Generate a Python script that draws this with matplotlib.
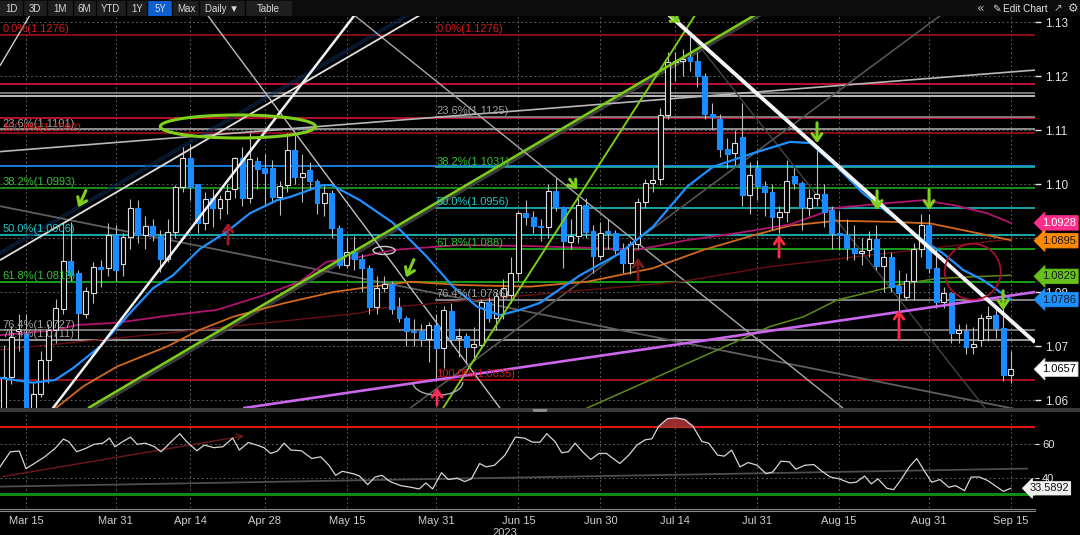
import numpy as np
import pandas as pd
import matplotlib
matplotlib.use("Agg")
import matplotlib.pyplot as plt
from matplotlib.patches import Rectangle, Ellipse, Arc
import matplotlib.transforms as mtransforms

plt.rcParams['font.family'] = ['Liberation Sans', 'DejaVu Sans']

# ------------------------------------------------------------------ data
dates = pd.bdate_range('2023-03-10', '2023-09-15')

opens = [
    # Mar
    1.0582, 1.0643, 1.0727, 1.0722, 1.0577, 1.0612, 1.0674, 1.0730, 1.0769, 1.0857, 1.0835, 1.0760, 1.0798, 1.0846, 1.0844, 1.0906,
    # Apr
    1.0852, 1.0902, 1.0956, 1.0906, 1.0923, 1.0904, 1.0861, 1.0912, 1.0995, 1.1048, 1.1000, 1.0928, 1.0974, 1.0956, 1.0972, 1.0990, 1.1048, 1.0974, 1.1042, 1.1030,
    # May
    1.1030, 1.0976, 1.0998, 1.1063, 1.1013, 1.1026, 1.1005, 1.0965, 1.0984, 1.0919, 1.0850, 1.0875, 1.0862, 1.0844, 1.0772, 1.0807, 1.0814, 1.0772, 1.0752, 1.0728, 1.0728, 1.0713, 1.0738,
    # Jun
    1.0696, 1.0765, 1.0714, 1.0718, 1.0699, 1.0702, 1.0781, 1.0751, 1.0793, 1.0794, 1.0835, 1.0946, 1.0939, 1.0922, 1.0920, 1.0987, 1.0957, 1.0893, 1.0904, 1.0962, 1.0913, 1.0867,
    # Jul
    1.0913, 1.0910, 1.0878, 1.0853, 1.0888, 1.0967, 1.1001, 1.1010, 1.1128, 1.1226, 1.1228, 1.1236, 1.1228, 1.1200, 1.1130, 1.1121, 1.1065, 1.1057, 1.1087, 1.0980, 1.1030,
    # Aug
    1.0997, 1.0985, 1.0939, 1.0948, 1.1014, 1.1002, 1.0956, 1.0974, 1.0981, 1.0952, 1.0909, 1.0906, 1.0881, 1.0873, 1.0878, 1.0898, 1.0848, 1.0864, 1.0812, 1.0791, 1.0821, 1.0880, 1.0924,
    # Sep
    1.0844, 1.0782, 1.0798, 1.0724, 1.0728, 1.0698, 1.0711, 1.0751, 1.0757, 1.0733, 1.0647,
]
highs = [
    1.0702, 1.0737, 1.0760, 1.0760, 1.0632, 1.0690, 1.0740, 1.0787, 1.0928, 1.0930, 1.0840, 1.0810, 1.0855, 1.0860, 1.0927, 1.0925,
    1.0910, 1.0973, 1.0970, 1.0940, 1.0935, 1.0915, 1.0935, 1.0998, 1.1068, 1.1075, 1.1000, 1.0985, 1.0990, 1.0980, 1.1000, 1.1050, 1.1068, 1.1094, 1.1050, 1.1055,
    1.1045, 1.1005, 1.1094, 1.1091, 1.1055, 1.1040, 1.1010, 1.1000, 1.0988, 1.0925, 1.0900, 1.0904, 1.0870, 1.0850, 1.0830, 1.0830, 1.0820, 1.0790, 1.0755, 1.0750, 1.0740, 1.0745, 1.0760,
    1.0775, 1.0780, 1.0733, 1.0725, 1.0735, 1.0787, 1.0790, 1.0800, 1.0824, 1.0865, 1.0950, 1.0970, 1.0950, 1.0935, 1.1000, 1.1012, 1.0960, 1.0935, 1.0975, 1.0975, 1.0925, 1.0930,
    1.0935, 1.0915, 1.0890, 1.0895, 1.0975, 1.1010, 1.1030, 1.1140, 1.1245, 1.1245, 1.1250, 1.1276, 1.1245, 1.1205, 1.1150, 1.1130, 1.1085, 1.1100, 1.1150, 1.1040, 1.1045,
    1.1005, 1.1000, 1.0960, 1.1045, 1.1030, 1.1005, 1.0990, 1.1064, 1.1000, 1.0960, 1.0950, 1.0935, 1.0925, 1.0900, 1.0913, 1.0925, 1.0880, 1.0875, 1.0840, 1.0835, 1.0890, 1.0945, 1.0945,
    1.0882, 1.0810, 1.0800, 1.0740, 1.0740, 1.0735, 1.0760, 1.0775, 1.0770, 1.0770, 1.0690,
]
lows = [
    1.0525, 1.0630, 1.0690, 1.0516, 1.0545, 1.0605, 1.0632, 1.0705, 1.0760, 1.0820, 1.0713, 1.0752, 1.0780, 1.0810, 1.0830, 1.0820,
    1.0830, 1.0880, 1.0890, 1.0880, 1.0895, 1.0837, 1.0855, 1.0900, 1.0985, 1.0970, 1.0910, 1.0915, 1.0920, 1.0935, 1.0945, 1.0975, 1.0960, 1.0965, 1.0990, 1.0960,
    1.0965, 1.0942, 1.0985, 1.1000, 1.0967, 1.0988, 1.0945, 1.0940, 1.0900, 1.0845, 1.0845, 1.0840, 1.0800, 1.0760, 1.0760, 1.0800, 1.0760, 1.0745, 1.0700, 1.0700, 1.0700, 1.0670, 1.0635,
    1.0660, 1.0703, 1.0680, 1.0668, 1.0673, 1.0695, 1.0745, 1.0730, 1.0750, 1.0780, 1.0820, 1.0925, 1.0910, 1.0895, 1.0900, 1.0950, 1.0845, 1.0880, 1.0890, 1.0900, 1.0835, 1.0860,
    1.0880, 1.0870, 1.0835, 1.0833, 1.0880, 1.0955, 1.0985, 1.0998, 1.1120, 1.1190, 1.1200, 1.1210, 1.1180, 1.1120, 1.1100, 1.1050, 1.1030, 1.1035, 1.0960, 1.0945, 1.0970,
    1.0940, 1.0915, 1.0910, 1.0930, 1.0990, 1.0915, 1.0940, 1.0960, 1.0920, 1.0880, 1.0880, 1.0860, 1.0860, 1.0850, 1.0865, 1.0840, 1.0800, 1.0800, 1.0765, 1.0785, 1.0785, 1.0865, 1.0835,
    1.0770, 1.0770, 1.0705, 1.0705, 1.0685, 1.0685, 1.0700, 1.0710, 1.0715, 1.0635, 1.0632,
]
closes = [
    1.0642, 1.0717, 1.0731, 1.0577, 1.0612, 1.0674, 1.0730, 1.0771, 1.0857, 1.0831, 1.0761, 1.0802, 1.0847, 1.0843, 1.0906, 1.0840,
    1.0902, 1.0956, 1.0906, 1.0923, 1.0906, 1.0861, 1.0912, 1.0995, 1.1048, 1.0995, 1.0928, 1.0972, 1.0956, 1.0972, 1.0987, 1.1048, 1.0974, 1.1046, 1.1028, 1.1020,
    1.0976, 1.0997, 1.1063, 1.1013, 1.1021, 1.1005, 1.0965, 1.0984, 1.0919, 1.0850, 1.0875, 1.0862, 1.0844, 1.0772, 1.0807, 1.0814, 1.0769, 1.0752, 1.0728, 1.0726, 1.0713, 1.0739, 1.0696,
    1.0767, 1.0713, 1.0718, 1.0699, 1.0704, 1.0781, 1.0751, 1.0793, 1.0807, 1.0835, 1.0946, 1.0939, 1.0922, 1.0920, 1.0987, 1.0958, 1.0894, 1.0904, 1.0962, 1.0911, 1.0867, 1.0909,
    1.0910, 1.0878, 1.0853, 1.0888, 1.0967, 1.1001, 1.1008, 1.1128, 1.1226, 1.1228, 1.1232, 1.1228, 1.1200, 1.1130, 1.1125, 1.1065, 1.1055, 1.1076, 1.0980, 1.1016, 1.0997,
    1.0985, 1.0939, 1.0948, 1.1005, 1.1002, 1.0957, 1.0974, 1.0981, 1.0948, 1.0909, 1.0906, 1.0881, 1.0873, 1.0876, 1.0898, 1.0848, 1.0864, 1.0810, 1.0798, 1.0821, 1.0880, 1.0924, 1.0844,
    1.0782, 1.0798, 1.0724, 1.0730, 1.0699, 1.0704, 1.0751, 1.0756, 1.0733, 1.0647, 1.0657,
]

tick_dates = ['2023-03-15', '2023-03-31', '2023-04-14', '2023-04-28', '2023-05-15', '2023-05-31',
              '2023-06-15', '2023-06-30', '2023-07-14', '2023-07-31', '2023-08-15', '2023-08-31', '2023-09-15']
tick_labels = ['Mar 15', 'Mar 31', 'Apr 14', 'Apr 28', 'May 15', 'May 31', 'Jun 15', 'Jun 30',
               'Jul 14', 'Jul 31', 'Aug 15', 'Aug 31', 'Sep 15']
price_ticks = [1.06, 1.07, 1.08, 1.09, 1.10, 1.11, 1.12, 1.13]
price_tick_labels = ['1.06', '1.07', '1.08', '1.09', '1.10', '1.11', '1.12', '1.13']

# moving averages (trading day since Mar 15, value)
ma_blue = [(-3.49, 1.0641), (0.94, 1.0632), (3.89, 1.0637), (6.30, 1.0659), (9.92, 1.0699), (14.34, 1.0767),
           (17.02, 1.0807), (19.70, 1.0831), (23.32, 1.0880), (26.94, 1.0912), (30.03, 1.0946), (33.65, 1.0970),
           (35.39, 1.0976), (39.81, 1.0998), (41.0, 1.0998), (44.77, 1.0970), (49.20, 1.0928), (53.75, 1.0865),
           (57.24, 1.0810), (60.46, 1.0773), (63.54, 1.0757), (66.22, 1.0767), (68.90, 1.0780), (74.26, 1.0831),
           (79.62, 1.0872), (84.05, 1.0921), (88.61, 1.0995), (92.10, 1.1032), (97.45, 1.1057), (102.4, 1.1078),
           (105.1, 1.1076), (108.7, 1.1032), (112.2, 1.0983), (116.8, 1.0933), (120.2, 1.0896), (122.9, 1.0872),
           (125.6, 1.0841), (128.3, 1.0822), (132.0, 1.0786)]
ma_magenta = [(-3.49, 1.0720), (4.16, 1.0730), (6.84, 1.0739), (12.2, 1.0743), (18.9, 1.0756), (25.6, 1.0767),
              (31.4, 1.0792), (36.7, 1.0819), (40.3, 1.0856), (44.8, 1.0865), (49.2, 1.0878), (58.2, 1.0887),
              (67.6, 1.0885), (77.3, 1.0881), (81.9, 1.0878), (88.6, 1.0896), (95.3, 1.0909), (102.4, 1.0925),
              (108.7, 1.0956), (115.8, 1.0965), (120.2, 1.0970), (124.3, 1.0961), (128.8, 1.0946), (132.0, 1.0928)]
ma_orange = [(1.88, 1.0570), (3.62, 1.0581), (7.64, 1.0625), (12.2, 1.0662), (18.9, 1.0699), (23.3, 1.0730),
             (27.7, 1.0754), (34.5, 1.0779), (41.2, 1.0800), (44.8, 1.0807), (51.5, 1.0819), (58.2, 1.0813),
             (67.6, 1.0810), (75.2, 1.0819), (84.0, 1.0844), (90.8, 1.0878), (97.5, 1.0905), (102.4, 1.0923),
             (108.7, 1.0932), (115.8, 1.0930), (121.2, 1.0927), (126.5, 1.0912), (132.0, 1.0896)]
ma_darkred = [(-3.49, 1.0693), (18.9, 1.0724), (44.8, 1.0761), (47.5, 1.0770), (87.7, 1.0819), (99.7, 1.0847), (132.0, 1.0898)]
ma_olive = [(71.6, 1.0565), (75.2, 1.0585), (87.7, 1.0662), (99.7, 1.0736), (104.2, 1.0754), (108.7, 1.0785),
            (113.1, 1.0800), (117.6, 1.0815), (122.1, 1.0825), (126.5, 1.0828), (132.0, 1.0831)]

# RSI (trading day since Mar 15, value)
rsi_points = [(-3.5, 46.3), (-2.1, 55.3), (-0.9, 55.7), (0.0, 45.3), (1.1, 48.3), (2.5, 52.3), (3.9, 57.3), (5.0, 62.8),
              (5.7, 61.4), (6.8, 55.3), (8.0, 57.3), (9.1, 59.7), (10.3, 60.4), (11.2, 63.4), (11.9, 58.3), (13.0, 61.4),
              (14.0, 64.0), (14.9, 59.7), (16.0, 60.4), (17.2, 58.3), (18.1, 55.3), (19.5, 61.4), (20.6, 66.0), (21.5, 61.4),
              (22.9, 55.9), (23.9, 59.3), (25.2, 57.7), (26.4, 58.3), (27.7, 63.4), (28.6, 56.3), (29.8, 60.8), (30.9, 59.3),
              (31.9, 57.7), (32.8, 54.3), (33.7, 55.7), (34.6, 60.4), (35.5, 56.3), (36.9, 55.9), (38.3, 51.3), (39.5, 52.3),
              (40.6, 47.3), (41.5, 41.3), (42.4, 43.7), (43.8, 42.3), (44.7, 40.9), (45.8, 35.8), (46.8, 40.3), (47.7, 41.3),
              (48.8, 37.6), (50.2, 35.2), (51.6, 34.2), (52.7, 33.2), (53.6, 36.8), (54.5, 33.2), (55.7, 42.9), (56.6, 38.8),
              (57.8, 39.6), (58.8, 37.6), (59.7, 39.2), (60.8, 48.3), (61.7, 46.3), (62.8, 47.3), (64.2, 53.3), (65.6, 64.0),
              (66.8, 63.4), (67.9, 61.0), (68.9, 61.0), (69.8, 66.0), (70.9, 61.4), (71.8, 54.7), (72.7, 55.3), (73.6, 60.4),
              (74.6, 55.3), (75.7, 50.7), (76.8, 54.3), (77.8, 54.3), (78.7, 51.3), (79.6, 48.3), (80.8, 53.3), (81.9, 59.3),
              (83.0, 62.4), (83.9, 63.0), (84.8, 70.4), (86.0, 75.0), (87.2, 75.4), (88.3, 74.4), (89.4, 70.4), (90.6, 61.4),
              (91.5, 60.4), (92.7, 53.3), (93.6, 52.7), (94.6, 56.3), (95.7, 46.3), (96.8, 48.9), (98.0, 47.3), (99.2, 42.3),
              (100.1, 43.3), (101.2, 49.7), (102.3, 49.3), (103.2, 44.9), (104.4, 47.3), (105.6, 47.7), (106.7, 43.7),
              (107.8, 40.3), (109.0, 39.2), (110.4, 36.8), (111.3, 37.2), (112.4, 40.9), (113.3, 36.2), (114.2, 39.2),
              (115.4, 33.6), (116.3, 32.8), (117.2, 38.2), (118.4, 46.3), (119.4, 51.3), (120.5, 43.3), (121.4, 37.2),
              (122.5, 38.8), (123.7, 34.2), (124.6, 35.2), (125.8, 32.2), (126.7, 40.3), (127.8, 40.3), (128.9, 38.2),
              (131.0, 31.8), (132.0, 33.5892)]
rsi_last = 33.5892

# Fibonacci sets
fib_left_text = ['0.0%(1.1276)', '23.6%(1.1101)', '100.0%(1.1092)', '38.2%(1.0993)', '50.0%(1.0906)',
                 '61.8%(1.0819)', '76.4%(1.0727)', '76.4%(1.0711)']
fib_left_price = [1.1276, 1.1101, 1.1094, 1.0993, 1.0906, 1.0819, 1.0729, 1.0712]
fib_right_text = ['0.0%(1.1276)', '23.6%(1.1125)', '38.2%(1.1031)', '50.0%(1.0956)', '61.8%(1.088)',
                  '76.4%(1.0786)', '100.0%(1.0635)']
fib_right_price = [1.1276, 1.1125, 1.1031, 1.0956, 1.0880, 1.0786, 1.0637]
fib_right_start = '2023-05-31'

full_levels = [1.1276, 1.1185, 1.1169, 1.1163, 1.1122, 1.1101, 1.1094, 1.1033, 1.0993, 1.0906, 1.0819, 1.0729, 1.0712, 1.0637]
part_levels = [1.1125, 1.1031, 1.0956, 1.0880, 1.0786]

# trend lines: ((day, price), (day, price))
trend_lines = {
    'a': ((2.0, 1.0556), (45.0, 1.1330)),
    'b': ((-3.49, 1.0859), (56.3, 1.1341)),
    'c': ((-3.49, 1.1060), (135.25, 1.1211)),
    'd': ((-3.49, 1.0959), (135.25, 1.0576)),
    'e': ((-3.49, 1.1219), (1.74, 1.1341)),
    'f': ((22.8, 1.1341), (63.54, 1.0585)),
    'g': ((43.97, 1.1313), (109.5, 1.0585)),
    'i1': ((8.31, 1.0585), (97.7, 1.1313)),
    'i2': ((55.9, 1.0585), (89.7, 1.1313)),
    'j': ((29.1, 1.0585), (135.25, 1.0800)),
    'k': ((86.2, 1.1313), (135.25, 1.0707)),
    'l': ((51.5, 1.0585), (122.65, 1.1313)),
    'm': ((87.7, 1.1300), (128.55, 1.0585)),
}
green_arrows = [((8.18, 1.09926), (6.84, 1.09519)), ((52.14, 1.08648), (50.80, 1.08222)),
                ((72.65, 1.10130), (74.13, 1.09852)), ((86.06, 1.13148), (88.07, 1.12963)),
                ((106.03, 1.11185), (106.03, 1.10704)), ((114.08, 1.09926), (114.08, 1.09463)),
                ((121.05, 1.09944), (121.05, 1.09463)), ((130.97, 1.08074), (130.97, 1.07611))]
red_arrows = [((27.08, 1.08833), (27.08, 1.09333), '#a3182a'), ((55.09, 1.05852), (55.09, 1.06278), '#ff2a55'),
              ((82.04, 1.08167), (82.04, 1.08685), '#7d1a1a'), ((100.94, 1.08593), (100.94, 1.09111), '#ff2a45'),
              ((117.02, 1.07074), (117.02, 1.07722), '#ff2a45')]

value_labels = [(1.0928, '#ff2d8c', 'white'), (1.0895, '#ff8a00', '#1a1a1a'), (1.0829, '#66c21a', '#1a1a1a'),
                (1.0786, '#1e90ff', '#10202a'), (1.0657, '#ffffff', '#000000')]

# ------------------------------------------------------------------ figure
W_PX, H_PX = 1080, 535
fig = plt.figure(figsize=(W_PX / 100, H_PX / 100), dpi=100, facecolor='black')

n = len(closes)
base = list(dates[:n]).index(pd.Timestamp('2023-03-15'))
x = np.arange(n) - base
date_list = list(dates[:n])
tick_x = [date_list.index(pd.Timestamp(d)) - base for d in tick_dates]
XLIM = (-3.49, 135.25)

ax = fig.add_axes([0, 127 / H_PX, 1035 / W_PX, 393 / H_PX])
ax.set_facecolor('black')
ax.set_xlim(*XLIM)
ax.set_ylim(1.05852, 1.1313)
for s in ax.spines.values():
    s.set_visible(False)

# grid
for tx in tick_x:
    ax.axvline(tx, color='#5a5a5a', lw=0.7, ls=(0, (2, 2.5)), zorder=1)
for py in price_ticks:
    ax.axhline(py, color='#5a5a5a', lw=0.7, ls=(0, (2, 2.5)), zorder=1)

full_colors = ['#a0101a', '#e3123c', '#8c8c8c', '#d9d9d9', '#d4112f', '#a6a6a6', '#a1101c', '#1f8fff',
               '#1fa31f', '#1fc7c7', '#1fb81f', '#8c8c8c', '#b3b3b3', '#c9101c']
for lv, col in zip(full_levels, full_colors):
    ax.axhline(lv, color=col, lw=1.2, zorder=2)
x_right = date_list.index(pd.Timestamp(fib_right_start)) - base
part_colors = ['#8c8c8c', '#1fb3a0', '#1fc0c0', '#1fb81f', '#9a9a9a']
for lv, col in zip(part_levels, part_colors):
    ax.plot([x_right, XLIM[1]], [lv, lv], color=col, lw=1.2, zorder=2)

# trend lines
tl_style = {
    'a': dict(color='#f2f2f2', lw=1.8), 'b': dict(color='#e0e0e0', lw=1.3), 'c': dict(color='#b8b8b8', lw=1.2),
    'd': dict(color='#5f5f5f', lw=1.3), 'e': dict(color='#cfcfcf', lw=1.0), 'f': dict(color='#bdbdbd', lw=1.0),
    'g': dict(color='#a8a8a8', lw=1.0), 'i1': dict(color='#7ccc1a', lw=1.8), 'i2': dict(color='#7ccc1a', lw=1.4),
    'j': dict(color='#cc66ee', lw=1.9), 'k': dict(color='#f5f5f5', lw=2.8), 'l': dict(color='#555555', lw=1.2),
    'm': dict(color='#444444', lw=1.0),
}
# shadows
(p0, p1) = trend_lines['b']
ax.plot([p0[0], p1[0]], [p0[1] + 0.0013, p1[1] + 0.0013], color='#0d2a55', lw=3, alpha=0.55, zorder=2.5)
(p0, p1) = trend_lines['i1']
ax.plot([p0[0] + 0.5, p1[0] + 0.5], [p0[1], p1[1]], color='#4a4a4a', lw=3.5, alpha=0.8, zorder=2.5)
for key, (p0, p1) in trend_lines.items():
    ax.plot([p0[0], p1[0]], [p0[1], p1[1]], zorder=7 if key in ('a', 'b', 'k', 'i1', 'i2', 'j') else 3,
            solid_capstyle='butt', **tl_style[key])

# moving averages
def plot_ma(pts, color, lw, z=4):
    d, v = zip(*pts)
    ax.plot(d, v, color=color, lw=lw, zorder=z)

plot_ma(ma_darkred, '#6b1010', 1.0)
plot_ma(ma_olive, '#5e8c16', 1.1)
plot_ma(ma_orange, '#d2691e', 1.3)
plot_ma(ma_magenta, '#b0146e', 1.3)
plot_ma(ma_blue, '#1e90ff', 1.6, z=6.5)

# candles
BW = 0.66
for xi, o, h, l, c in zip(x, opens, highs, lows, closes):
    up = c >= o
    ax.vlines(xi, l, h, color='#bdbdbd', lw=0.8, zorder=5)
    lo, hi = min(o, c), max(o, c)
    hgt = max(hi - lo, 0.00012)
    ax.add_patch(Rectangle((xi - BW / 2, lo), BW, hgt,
                           fc='black' if up else '#1a8cff',
                           ec='#dcdcdc' if up else '#1a8cff', lw=0.8, zorder=6))

# shapes
ax.add_patch(Ellipse((28.4, 1.11065), 20.8, 0.00426, fill=False, ec='#7fd01c', lw=2.2, zorder=8))
ax.add_patch(Ellipse((48.0, 1.08769), 2.95, 0.00148, fill=False, ec='#cccccc', lw=1.0, zorder=8))
ax.add_patch(Ellipse((126.9, 1.08376), 7.5, 0.01037, fill=False, ec='#b01030', lw=1.2, zorder=8))
ax.add_patch(Arc((55.2, 1.0633), 6.7, 0.0048, theta1=180, theta2=360, ec='#aaaaaa', lw=1.0, zorder=8))

for (s, e) in green_arrows:
    ax.annotate('', xy=e, xytext=s, annotation_clip=False,
                arrowprops=dict(arrowstyle='->,head_length=0.5,head_width=0.35', color='#7fd01c', lw=2.2), zorder=9)
for (s, e, col) in red_arrows:
    ax.annotate('', xy=e, xytext=s, annotation_clip=False,
                arrowprops=dict(arrowstyle='->,head_length=0.5,head_width=0.35', color=col, lw=2.0), zorder=9)

# fib labels
def fib_color(t):
    if t.startswith('0.0') or t.startswith('100'):
        return '#d41a1a'
    if t.startswith('23.6') or t.startswith('76.4'):
        return '#a0a0a0'
    if t.startswith('50.0'):
        return '#22c8c8'
    return '#33c233'

for t, p in zip(fib_left_text, fib_left_price):
    ax.text(-3.2, p + 0.00010, t, color=fib_color(t), fontsize=8, va='bottom', ha='left', zorder=10)
for t, p in zip(fib_right_text, fib_right_price):
    ax.text(x_right, p + 0.00010, t, color=fib_color(t), fontsize=8, va='bottom', ha='left', zorder=10)

# right axis
ax.yaxis.tick_right()
ax.set_yticks(price_ticks)
ax.set_yticklabels(price_tick_labels)
ax.tick_params(axis='y', colors='#e6e6e6', labelsize=8.5, length=4, width=1, pad=3)
ax.set_xticks([])

trans = mtransforms.blended_transform_factory(ax.transAxes, ax.transData)
for val, fc, tc in value_labels:
    ax.annotate(f'{val:.4f}', xy=(1.0, val), xycoords=trans, xytext=(5, 0), textcoords='offset points',
                ha='left', va='center', fontsize=8, color=tc, annotation_clip=False, zorder=20,
                bbox=dict(boxstyle='larrow,pad=0.2', fc=fc, ec='#cccccc' if fc == '#ffffff' else fc, lw=0.6))

# ------------------------------------------------------------------ RSI panel
ax2 = fig.add_axes([0, 27 / H_PX, 1035 / W_PX, 96 / H_PX])
ax2.set_facecolor('black')
ax2.set_xlim(*XLIM)
ax2.set_ylim(21.9, 78.9)
for s in ax2.spines.values():
    s.set_visible(False)
for tx in tick_x:
    ax2.axvline(tx, color='#5a5a5a', lw=0.7, ls=(0, (2, 2.5)), zorder=1)
for gy in (40, 60):
    ax2.axhline(gy, color='#5a5a5a', lw=0.7, ls=(0, (2, 2.5)), zorder=1)
ax2.axhline(70, color='#e01414', lw=1.5, zorder=2)
ax2.axhline(30, color='#118a11', lw=2.2, zorder=2)
ax2.plot([-3.49, 134.2], [34.6, 45.3], color='#4d4d4d', lw=1.3, zorder=2)
ax2.annotate('', xy=(29.6, 65.0), xytext=(-3.49, 40.3),
             arrowprops=dict(arrowstyle='->', color='#6e1a1a', lw=1.0), zorder=3)
rd, rv = zip(*rsi_points)
rd = np.array(rd)
rv = np.array(rv)
ax2.fill_between(rd, rv, 70, where=rv > 70, interpolate=True, color='#a83232', alpha=0.9, zorder=3)
ax2.plot(rd, rv, color='#d6d6d6', lw=0.9, zorder=4)

ax2.yaxis.tick_right()
ax2.set_yticks([40, 60])
ax2.tick_params(axis='y', colors='#e6e6e6', labelsize=8, length=3, pad=2)
ax2.set_xticks(tick_x)
ax2.set_xticklabels(tick_labels)
ax2.tick_params(axis='x', colors='#cfcfcf', labelsize=8, length=0, pad=6)
trans2 = mtransforms.blended_transform_factory(ax2.transAxes, ax2.transData)
ax2.annotate(f'{rsi_last:.4f}', xy=(0.988, rsi_last), xycoords=trans2, xytext=(5, 0), textcoords='offset points',
             ha='left', va='center', fontsize=7.8, color='#111111', annotation_clip=False, zorder=20,
             bbox=dict(boxstyle='larrow,pad=0.15', fc='#f0f0f0', ec='#ffffff', lw=0.6))

# ------------------------------------------------------------------ overlay (toolbar, separators)
ov = fig.add_axes([0, 0, 1, 1], zorder=30)
ov.set_xlim(0, W_PX)
ov.set_ylim(H_PX, 0)
ov.axis('off')
ov.patch.set_alpha(0)

ov.add_patch(Rectangle((0, 408), 1080, 4, fc='#3a3a3a', ec='none'))
ov.add_patch(Rectangle((533, 408.5), 14, 3, fc='#8a8a8a', ec='none'))
ov.plot([0, 1035], [508.5, 508.5], color='#8a8a8a', lw=0.8)
ov.plot([0, 1035], [511, 511], color='#8a8a8a', lw=0.8)
ov.text(505, 533, '2023', color='#cfcfcf', fontsize=8, ha='center', va='center')

ov.add_patch(Rectangle((0, 0), 1080, 16, fc='#0c0c0c', ec='none'))
ov.add_patch(Rectangle((0, 1), 292, 15, fc='#1e1e1e', ec='none'))
ov.add_patch(Rectangle((148, 1), 24, 15, fc='#0b5fcf', ec='none'))
for sx in (23, 47, 73, 96, 126, 147, 172, 199, 245):
    ov.plot([sx, sx], [1, 16], color='#050505', lw=1)
buttons = [('1D', 12), ('3D', 35), ('1M', 60), ('6M', 84), ('YTD', 111), ('1Y', 137), ('5Y', 160),
           ('Max', 186), ('Daily \u25BC', 222), ('Table', 268)]
for t, bx in buttons:
    ov.text(bx, 8.5, t, color='#d8d8d8', fontsize=7, ha='center', va='center')
ov.text(981, 8.5, '\u00AB', color='#bbbbbb', fontsize=9, ha='center', va='center', family=['DejaVu Sans'])
ov.text(996, 8.5, '\u270E', color='#dddddd', fontsize=7.5, ha='center', va='center', family=['DejaVu Sans'])
ov.text(1025, 8.5, 'Edit Chart', color='#e6e6e6', fontsize=7.2, ha='center', va='center')
ov.text(1058, 8.5, '\u2197', color='#bbbbbb', fontsize=7.5, ha='center', va='center', family=['DejaVu Sans'])
ov.text(1073, 8.5, '\u2699', color='#cccccc', fontsize=8.5, ha='center', va='center', family=['DejaVu Sans'])

fig.savefig('out.png', dpi=100, facecolor='black')
